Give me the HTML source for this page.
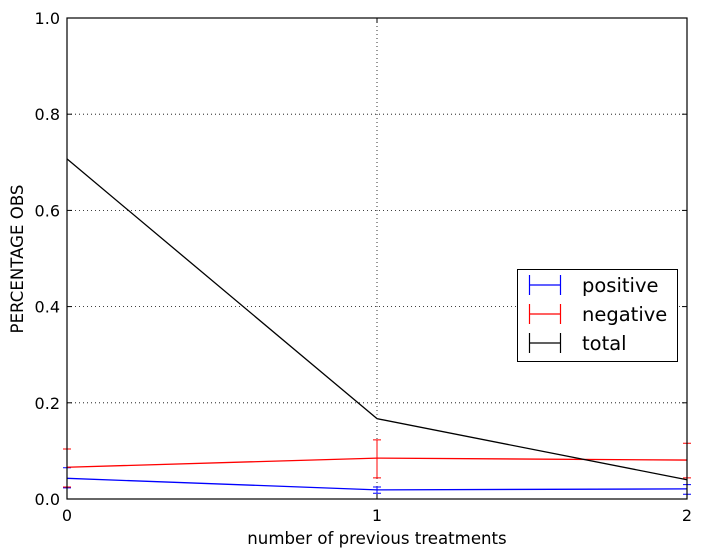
<!DOCTYPE html>
<html><head><meta charset="utf-8"><style>
body{margin:0;background:#fff;}
svg{display:block;font-family:"DejaVu Sans","Liberation Sans",sans-serif;}
</style></head><body>
<svg id="chart" width="702" height="557" viewBox="0 0 702 557"></svg>
<script>
const categories=[0,1,2];
const positiveVals=[0.043,0.019,0.021];
const positiveLo=[0.023,0.012,0.010];
const positiveHi=[0.065,0.025,0.030];
const negativeVals=[0.066,0.085,0.081];
const negativeLo=[0.025,0.044,0.044];
const negativeHi=[0.104,0.123,0.116];
const totalVals=[0.707,0.167,0.040];
const yTicks=[0,0.2,0.4,0.6,0.8,1.0];
const yTickLabels=["0.0","0.2","0.4","0.6","0.8","1.0"];
const xTickLabels=["0","1","2"];

const NS="http://www.w3.org/2000/svg";
const svg=document.getElementById('chart');
const L=67,R=687,T=18,B=499;
const xs=v=>L+(v-0)/(2-0)*(R-L);
const ys=v=>B-v*(B-T);
function mk(tag,attrs,parent){const e=document.createElementNS(NS,tag);for(const k in attrs)e.setAttribute(k,attrs[k]);(parent||svg).appendChild(e);return e;}

yTicks.forEach((t,i)=>{
  if(t>0&&t<1){const g=mk('line',{x1:L,x2:R,y1:ys(t),y2:ys(t),stroke:'#000','stroke-width':0.8,'stroke-dasharray':'1,3'});
  
  }
  const tk=mk('line',{x1:L,x2:L+5,y1:ys(t),y2:ys(t),stroke:'#000'});
  
  
  const tk2=mk('line',{x1:R,x2:R-5,y1:ys(t),y2:ys(t),stroke:'#000'});
  
  
  const lb=mk('text',{x:L-7,y:ys(t)+6,'text-anchor':'end','font-size':16});
  lb.textContent=yTickLabels[i];
  
  
});
categories.forEach((c,i)=>{
  if(i==1){const g=mk('line',{x1:xs(c),x2:xs(c),y1:T,y2:B,stroke:'#000','stroke-width':0.8,'stroke-dasharray':'1,3'});
  
  }
  const tk=mk('line',{x1:xs(c),x2:xs(c),y1:B,y2:B-5,stroke:'#000'});
  
  
  const tk2=mk('line',{x1:xs(c),x2:xs(c),y1:T,y2:T+5,stroke:'#000'});
  
  
  const lb=mk('text',{x:xs(c),y:B+22,'text-anchor':'middle','font-size':16});
  lb.textContent=xTickLabels[i];
  
  
});

function series(vals,lo,hi,color,name){
  const p=mk('polyline',{points:categories.map((c,i)=>xs(c)+','+ys(vals[i])).join(' '),fill:'none',stroke:color,'stroke-width':1.3});
  
  
  if(lo){categories.forEach((c,i)=>{
    const x=xs(c);
    const e=mk('path',{d:`M${x},${ys(lo[i])}V${ys(hi[i])}M${x-4},${ys(lo[i])}H${x+4}M${x-4},${ys(hi[i])}H${x+4}`,stroke:color,'stroke-width':1,fill:'none'});
    
    
  });}
}
series(positiveVals,positiveLo,positiveHi,'#0000ff','positive');
series(negativeVals,negativeLo,negativeHi,'#ff0000','negative');
series(totalVals,null,null,'#000','total');

const frame=mk('rect',{x:L,y:T,width:R-L,height:B-T,fill:'none',stroke:'#000','stroke-width':1.2});



const xt=mk('text',{x:377,y:544,'text-anchor':'middle','font-size':16.6});
xt.textContent='number of previous treatments';


const yt=mk('text',{x:23,y:259,'text-anchor':'middle','font-size':16.6,transform:'rotate(-90 23 259)'});
yt.textContent='PERCENTAGE OBS';



const lg=mk('g',{});


mk('rect',{x:517.5,y:269.5,width:160,height:92,fill:'#fff',stroke:'#000','stroke-width':1},lg);
[['positive','#0000ff'],['negative','#ff0000'],['total','#000']].forEach((d,i)=>{
  const y=285+i*29;
  const e=mk('path',{d:`M529,${y}H561M529.5,${y-10}V${y+10}M560.5,${y-10}V${y+10}`,stroke:d[1],'stroke-width':1.2,fill:'none'},lg);
  
  
  const t=mk('text',{x:582,y:y+7,'font-size':19.5},lg);
  t.textContent=d[0];
  
  
});
</script>
</body></html>
